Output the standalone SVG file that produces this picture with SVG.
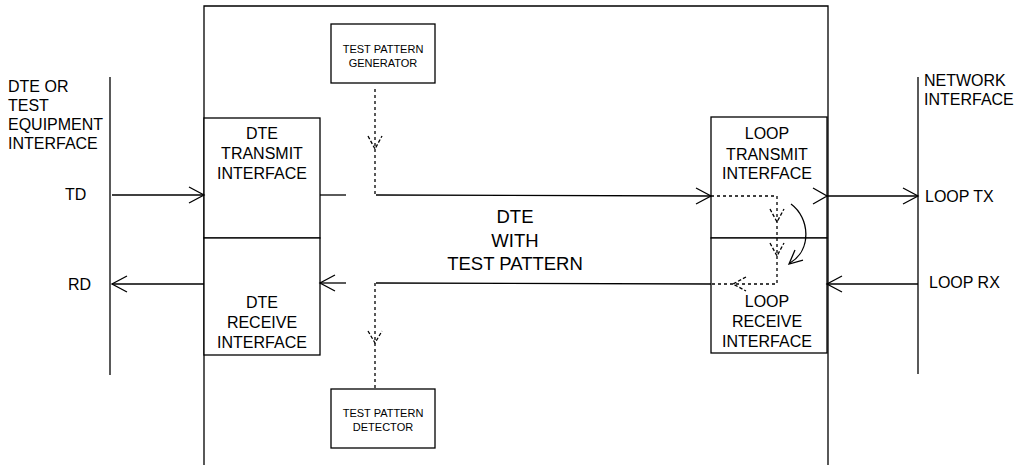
<svg xmlns="http://www.w3.org/2000/svg" width="1028" height="465" viewBox="0 0 1028 465">
<style>
.ln{fill:none;stroke:#000;stroke-width:1.3}
.dot{fill:none;stroke:#000;stroke-width:1.3;stroke-dasharray:3 3}
.chev{fill:none;stroke:#000;stroke-width:1.3;stroke-dasharray:3.5 2}
.box{fill:#fff;stroke:#000;stroke-width:1.3}
text{font-family:"Liberation Sans",Arial,sans-serif;fill:#000}
.t16{font-size:16px}
.t11{font-size:11px}
.t18{font-size:18.5px}
.c{text-anchor:middle}
</style>
<rect width="1028" height="465" fill="#fff"/>
<g id="frame">
<path class="ln" d="M204,465 V6 H828 V465"/>
</g>
<g id="dte-interface">
<line class="ln" x1="110" y1="77" x2="110" y2="375"/>
<text class="t16" x="8" y="92">DTE OR</text>
<text class="t16" x="8" y="111">TEST</text>
<text class="t16" x="8" y="130">EQUIPMENT</text>
<text class="t16" x="8" y="149">INTERFACE</text>
<text class="t16" x="65" y="200">TD</text>
<text class="t16" x="68" y="290">RD</text>
</g>
<g id="network-interface">
<line class="ln" x1="918" y1="77" x2="918" y2="374"/>
<text class="t16" x="924" y="86">NETWORK</text>
<text class="t16" x="924" y="105">INTERFACE</text>
<text class="t16" x="925" y="202">LOOP TX</text>
<text class="t16" x="929" y="288">LOOP RX</text>
</g>
<g id="dte-transmit">
<rect class="box" x="204" y="118" width="116" height="120"/>
<text class="t16 c" x="262" y="139">DTE</text>
<text class="t16 c" x="262" y="159">TRANSMIT</text>
<text class="t16 c" x="262" y="179">INTERFACE</text>
</g>
<g id="dte-receive">
<rect class="box" x="204" y="238" width="116" height="117"/>
<text class="t16 c" x="262" y="308">DTE</text>
<text class="t16 c" x="262" y="328">RECEIVE</text>
<text class="t16 c" x="262" y="348">INTERFACE</text>
</g>
<g id="loop-transmit">
<rect class="box" x="711" y="117" width="116" height="121"/>
<text class="t16 c" x="767" y="139">LOOP</text>
<text class="t16 c" x="767" y="160">TRANSMIT</text>
<text class="t16 c" x="767" y="179">INTERFACE</text>
</g>
<g id="loop-receive">
<rect class="box" x="711" y="238" width="116" height="115"/>
<text class="t16 c" x="767" y="307">LOOP</text>
<text class="t16 c" x="767" y="327">RECEIVE</text>
<text class="t16 c" x="767" y="347">INTERFACE</text>
</g>
<g id="generator">
<rect class="box" x="331" y="24" width="104" height="59"/>
<text class="t11 c" x="383" y="53">TEST PATTERN</text>
<text class="t11 c" x="383" y="67">GENERATOR</text>
</g>
<g id="detector">
<rect class="box" x="331" y="389" width="104" height="59"/>
<text class="t11 c" x="383" y="417">TEST PATTERN</text>
<text class="t11 c" x="383" y="431">DETECTOR</text>
</g>
<g id="center-label">
<text class="t18 c" x="515" y="223">DTE</text>
<text class="t18 c" x="515" y="247">WITH</text>
<text class="t18 c" x="515" y="270">TEST PATTERN</text>
</g>
<g id="connectors">
<line class="ln" x1="112" y1="195" x2="204" y2="195"/>
<path class="ln" d="M189,187 L204,195 L189,203"/>
<line class="ln" x1="320" y1="195" x2="346" y2="195"/>
<line class="dot" x1="375" y1="89" x2="375" y2="195"/>
<path class="chev" d="M368,136 L375,149 L382,136"/>
<line class="ln" x1="376" y1="195" x2="711" y2="196"/>
<path class="ln" d="M696,188 L711,196 L696,204"/>
<path class="ln" d="M813,188 L827,196 L813,204"/>
<line class="ln" x1="827" y1="196" x2="918" y2="196"/>
<path class="ln" d="M903,188 L918,196 L903,204"/>
<line class="ln" x1="918" y1="284" x2="827" y2="284"/>
<path class="ln" d="M842,276 L827,284 L842,292"/>
<path class="dot" d="M711,196 H777 V284 H711"/>
<path class="chev" d="M770,209 L777,222 L784,209"/>
<path class="chev" d="M770,243 L777,256 L784,243"/>
<path class="chev" d="M746,277 L733,284 L746,291"/>
<path class="ln" d="M791,204 C810,218 812,250 790,263"/>
<path class="ln" d="M795,250 L789,264 L803,260"/>
<line class="ln" x1="711" y1="284" x2="376" y2="283"/>
<line class="dot" x1="375" y1="283" x2="375" y2="389"/>
<path class="chev" d="M368,331 L375,343 L382,331"/>
<line class="ln" x1="346" y1="283" x2="320" y2="283"/>
<path class="ln" d="M335,275 L320,283 L335,291"/>
<line class="ln" x1="204" y1="284" x2="112" y2="284"/>
<path class="ln" d="M127,276 L112,284 L127,292"/>
</g>
</svg>
